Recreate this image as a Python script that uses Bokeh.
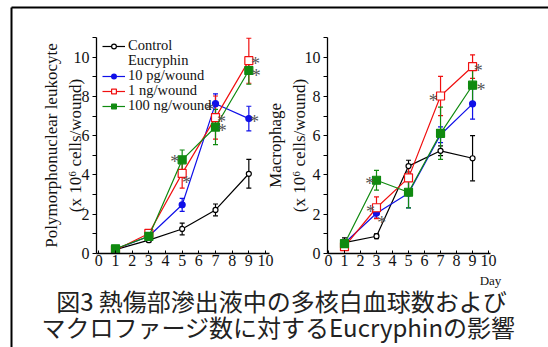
from bokeh.plotting import figure
from bokeh.layouts import row, column
from bokeh.models import (Range1d, FixedTicker, ColumnDataSource, Whisker, TeeHead,
                          Legend, LegendItem)
from bokeh.core.properties import value
from bokeh.embed import file_html
from bokeh.resources import INLINE

days = [1, 3, 5, 7, 9]

# Polymorphonuclear leukocyte (x10^6 cells/wound)
pmn_control = [0.20, 0.68, 1.25, 2.22, 4.06]
pmn_control_err = [0.05, 0.10, 0.30, 0.30, 0.73]
pmn_10pg = [0.22, 0.88, 2.48, 7.63, 6.87]
pmn_10pg_err = [0.05, 0.10, 0.33, 0.50, 0.63]
pmn_1ng = [0.18, 1.02, 4.08, 6.92, 9.82]
pmn_1ng_err = [0.05, 0.18, 0.75, 1.10, 1.15]
pmn_100ng = [0.24, 0.87, 4.77, 6.44, 9.32]
pmn_100ng_err = [0.05, 0.15, 0.50, 0.90, 0.70]

# Macrophage (x10^6 cells/wound)
mac_control = [0.55, 0.88, 4.45, 5.23, 4.85]
mac_control_err = [0.25, 0.12, 0.30, 0.25, 1.15]
mac_10pg = [0.52, 2.05, 3.07, 6.05, 7.62]
mac_10pg_err = [0.15, 0.25, 0.75, 0.40, 0.78]
mac_1ng = [0.35, 2.33, 3.85, 8.02, 9.52]
mac_1ng_err = [0.10, 0.55, 0.60, 1.00, 0.60]
mac_100ng = [0.50, 3.73, 3.12, 6.12, 8.57]
mac_100ng_err = [0.20, 0.50, 0.80, 1.33, 1.00]

# significance marks (*)
pmn_star_x = [4.56, 5.26, 6.66, 7.36, 7.40, 9.40, 9.44, 9.34]
pmn_star_y = [4.88, 3.78, 7.53, 6.92, 6.42, 9.87, 9.25, 6.92]
mac_star_x = [2.58, 2.62, 3.33, 6.55, 9.36, 9.52]
mac_star_y = [3.73, 2.31, 1.76, 7.99, 9.50, 8.55]

legend_labels = ["Control", "Eucryphin", "10 pg/wound", "1 ng/wound", "100 ng/wound"]
x_ticks = list(range(0, 11))
y_ticks = [0, 2, 4, 6, 8, 10]
y_minor = [1, 3, 5, 7, 9, 11]

caption_lines = ["図3 熱傷部滲出液中の多核白血球数および",
                 "マクロファージ数に対するEucryphinの影響"]

SERIF = "Liberation Serif"
BLACK = "#000000"
BLUE = "#1010e8"
RED = "#f01010"
GREEN = "#108a10"
STAR = "#555555"


def make_plot(width, height, bl, br, bt, bb, xr, ylabel, label_standoff):
    p = figure(width=width, height=height, output_backend="svg", toolbar_location=None,
               x_range=Range1d(*xr), y_range=Range1d(0, 11),
               min_border_left=bl, min_border_right=br, min_border_top=bt,
               min_border_bottom=bb)
    p.background_fill_alpha = 0
    p.border_fill_alpha = 0
    p.outline_line_color = None
    p.grid.visible = False
    for ax in (p.xaxis[0], p.yaxis[0]):
        ax.axis_line_width = 1.3
        ax.axis_line_color = BLACK
        ax.major_tick_line_color = BLACK
        ax.minor_tick_line_color = BLACK
        ax.major_label_text_font = SERIF
        ax.major_label_text_font_size = "16px"
        ax.major_label_text_color = "#111111"
        ax.axis_label_text_font = SERIF
        ax.axis_label_text_font_style = "normal"
        ax.axis_label_text_color = "#111111"
    xa = p.xaxis[0]
    xa.ticker = FixedTicker(ticks=x_ticks)
    xa.major_tick_in = 3
    xa.major_tick_out = 0
    xa.minor_tick_in = 0
    xa.minor_tick_out = 0
    xa.major_label_standoff = 1
    ya = p.yaxis[0]
    ya.ticker = FixedTicker(ticks=y_ticks, minor_ticks=y_minor)
    ya.major_tick_in = 0
    ya.major_tick_out = 4
    ya.minor_tick_in = 0
    ya.minor_tick_out = 4
    ya.major_label_standoff = 3
    ya.axis_label = ylabel
    ya.axis_label_text_font_size = "17px"
    ya.axis_label_text_line_height = 1.25
    ya.axis_label_standoff = label_standoff
    return p


def add_series(p, ys, errs, color, marker, size, fill):
    src = ColumnDataSource(dict(x=days, y=ys,
                                lo=[a - b for a, b in zip(ys, errs)],
                                hi=[a + b for a, b in zip(ys, errs)]))
    w = Whisker(base="x", lower="lo", upper="hi", source=src, line_color=color,
                line_width=1.2,
                upper_head=TeeHead(size=5, line_color=color, line_width=1.2),
                lower_head=TeeHead(size=5, line_color=color, line_width=1.2))
    p.add_layout(w)
    ln = p.line("x", "y", source=src, line_color=color, line_width=1.2)
    sc = p.scatter("x", "y", source=src, marker=marker, size=size, line_color=color,
                   line_width=1.2, fill_color=fill)
    return [ln, sc]


def add_stars(p, xs, ys):
    p.text(x=xs, y=ys, text=["*"] * len(xs), text_font=value(SERIF),
           text_font_size="18px", text_color=STAR, text_align="center",
           text_baseline="middle", y_offset=4)


# ---- left: PMN
pl = make_plot(265, 282, 84, 8, 29, 33, (-0.14, 10.24),
               "Polymorphonuclear leukocyte\n(x 10\u2076 cells/wound)", -14)
r_c = add_series(pl, pmn_control, pmn_control_err, BLACK, "circle", 5, "white")
r_b = add_series(pl, pmn_10pg, pmn_10pg_err, BLUE, "circle", 6, BLUE)
r_r = add_series(pl, pmn_1ng, pmn_1ng_err, RED, "square", 8, "white")
r_g = add_series(pl, pmn_100ng, pmn_100ng_err, GREEN, "square", 8, GREEN)
add_stars(pl, pmn_star_x, pmn_star_y)
r_blank = pl.line(x=[], y=[], line_alpha=0)

# one single-row legend per entry, so that rows can sit close together
legend_renderers = [r_c, [r_blank], r_b, r_r, r_g]
legend_offsets = [199, 184, 169, 154, 139]
for lab, rends, off in zip(legend_labels, legend_renderers, legend_offsets):
    lg = Legend(items=[LegendItem(label=lab, renderers=rends)], location=(6, off))
    lg.background_fill_alpha = 0
    lg.border_line_alpha = 0
    lg.padding = 0
    lg.margin = 0
    lg.glyph_height = 12
    lg.label_height = 12
    lg.glyph_width = 23
    lg.label_standoff = 3
    lg.label_text_font = SERIF
    lg.label_text_font_size = "14.5px"
    lg.label_text_color = "#111111"
    pl.add_layout(lg)

# ---- right: Macrophage
pr = make_plot(286, 282, 57, 58, 25, 37, (-0.06, 10.12),
               "Macrophage\n(x 10\u2076 cells/wound)", -7)
add_series(pr, mac_control, mac_control_err, BLACK, "circle", 5, "white")
add_series(pr, mac_10pg, mac_10pg_err, BLUE, "circle", 6, BLUE)
add_series(pr, mac_1ng, mac_1ng_err, RED, "square", 8, "white")
add_series(pr, mac_100ng, mac_100ng_err, GREEN, "square", 8, GREEN)
add_stars(pr, mac_star_x, mac_star_y)
pr.margin = (0, 0, 0, -15)

charts = row(pl, pr, margin=(8, 0, 0, 12))

# ---- overlay panel: its top and left axis lines form the frame;
# it also carries the caption and "Day". Panel coords: x = page x, y = 347 - page y
ov = figure(width=539, height=342, output_backend="svg", toolbar_location=None,
            x_range=Range1d(11, 548), y_range=Range1d(0, 340),
            x_axis_location="above", y_axis_location="left",
            min_border_left=2, min_border_top=2, min_border_right=0, min_border_bottom=0)
ov.grid.visible = False
ov.outline_line_color = None
ov.background_fill_alpha = 0
ov.border_fill_alpha = 0
for ax in (ov.xaxis[0], ov.yaxis[0]):
    ax.ticker = FixedTicker(ticks=[])
    ax.major_tick_in = 0
    ax.major_tick_out = 0
    ax.minor_tick_in = 0
    ax.minor_tick_out = 0
    ax.major_label_standoff = 0
    ax.major_label_text_font_size = "0px"
    ax.axis_line_color = BLACK
    ax.axis_line_width = 2
ov.text(x=[490], y=[67], text=["Day"], text_font=value(SERIF), text_font_size="13px",
        text_color="#111111", text_align="center", text_baseline="middle")
ov.text(x=[281, 278], y=[47, 21], text=caption_lines,
        text_font=value("Noto Sans CJK JP"), text_font_size="24px",
        text_color="#222222", text_align="center", text_baseline="middle")
ov.margin = (-285, 0, 0, 9)

layout = column(charts, ov)

open("out.html", "w").write(file_html(layout, INLINE))
